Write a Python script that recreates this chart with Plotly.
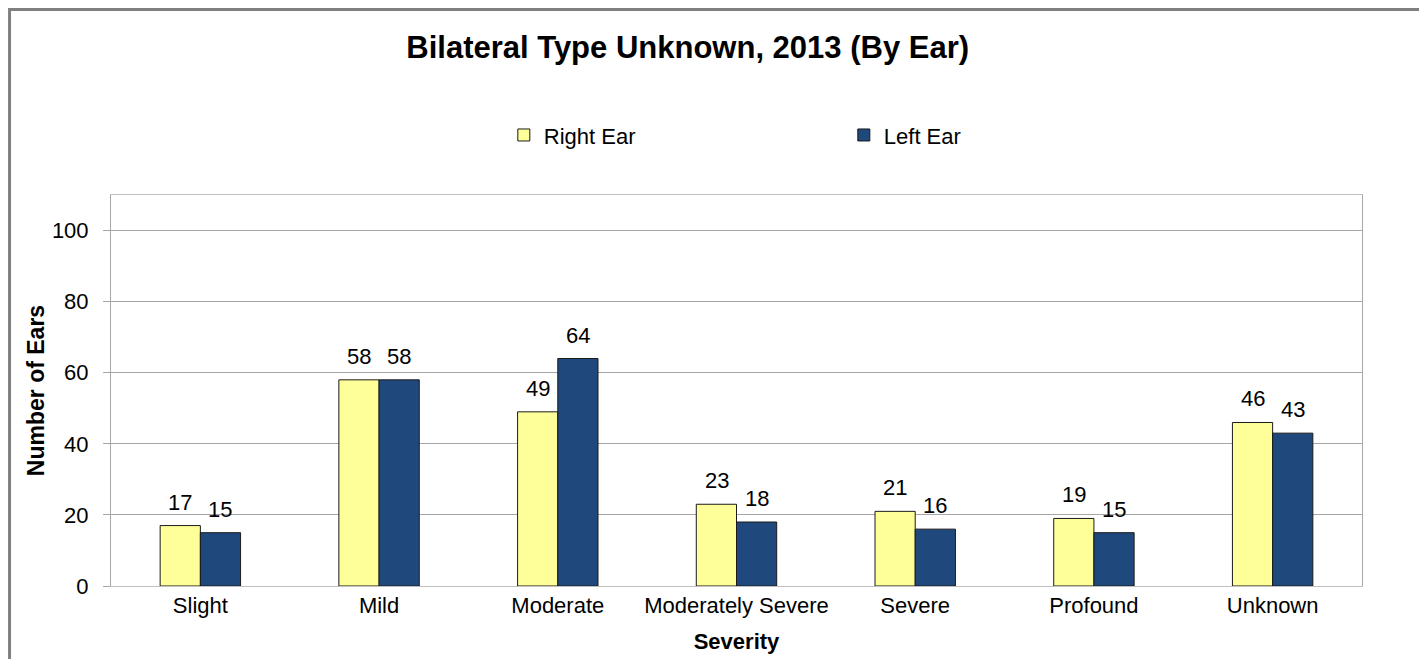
import plotly.graph_objects as go

categories = ["Slight", "Mild", "Moderate", "Moderately Severe", "Severe", "Profound", "Unknown"]
right_ear = [17, 58, 49, 23, 21, 19, 46]
left_ear = [15, 58, 64, 18, 16, 15, 43]

FONT = "Liberation Sans, Arial, sans-serif"

fig = go.Figure()
fig.add_trace(go.Bar(
    x=categories, y=right_ear, name="Right Ear",
    marker=dict(color="#FFFF99", line=dict(color="#1a1a1a", width=1)),
))
fig.add_trace(go.Bar(
    x=categories, y=left_ear, name="Left Ear",
    marker=dict(color="#1F497D", line=dict(color="#1a1a1a", width=1)),
))

# value labels sit a bit higher above the bars than plotly's outside text
annotations = []
for series, shift in ((right_ear, -20), (left_ear, 20)):
    for cat, val in zip(categories, series):
        annotations.append(dict(
            x=cat, y=val, xref="x", yref="y", text=str(val), showarrow=False,
            xanchor="center", yanchor="bottom", xshift=shift, yshift=9,
            font=dict(size=22, color="#000000"),
        ))

fig.update_layout(
    width=1419, height=651,
    margin=dict(l=103, r=65, t=187, b=73),
    barmode="group", bargap=0.55, bargroupgap=0,
    paper_bgcolor="white", plot_bgcolor="white",
    font=dict(family=FONT, size=22, color="#000000"),
    title=dict(text="<b>Bilateral Type Unknown, 2013 (By Ear)</b>", x=0.479, xanchor="center",
               y=0.940, yanchor="middle", font=dict(size=31)),
    legend=dict(orientation="h", x=0.314, xanchor="left", y=1.153, yanchor="middle",
                entrywidth=295, entrywidthmode="pixels", font=dict(size=22),
                itemclick=False),
    xaxis=dict(title=dict(text="<b>Severity</b>", font=dict(size=22), standoff=16),
               showline=True, linecolor="#BFBFBF", mirror=True, ticks="",
               tickfont=dict(size=22), automargin=False),
    yaxis=dict(title=dict(text="<b>Number of Ears</b>", font=dict(size=23), standoff=0),
               range=[0, 110], tickvals=[0, 20, 40, 60, 80, 100],
               showgrid=True, gridcolor="#A6A6A6", gridwidth=1,
               showline=True, linecolor="#A6A6A6", mirror=True,
               ticks="outside", ticklen=7, tickcolor="#A6A6A6", ticklabelstandoff=10,
               tickfont=dict(size=22), zeroline=False, automargin=False),
    annotations=annotations,
    shapes=[dict(type="rect", xref="paper", yref="paper",
                 x0=-0.0811, x1=1.048, y0=-0.25, y1=1.4744,
                 line=dict(color="#808080", width=3))],
)

fig.write_html("out.html")
